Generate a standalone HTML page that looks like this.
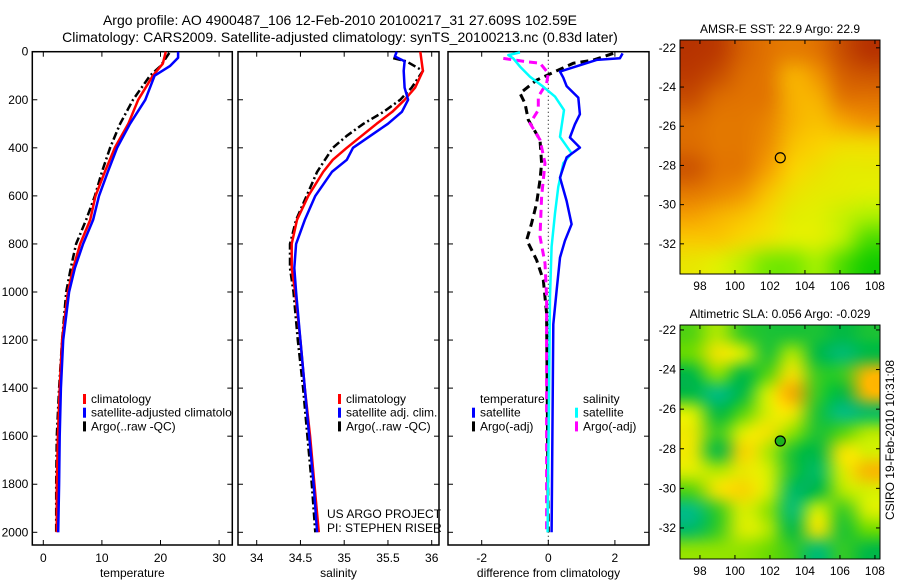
<!DOCTYPE html>
<html><head><meta charset="utf-8">
<style>
body{margin:0;background:#fff;width:900px;height:580px;overflow:hidden;position:relative;font-family:"Liberation Sans",sans-serif}
svg{position:absolute;left:0;top:0}
canvas{position:absolute}
text{font-family:"Liberation Sans",sans-serif;font-size:12px;fill:#000}
</style></head><body>
<canvas id="sst" width="200" height="234" style="left:680px;top:40px"></canvas>
<canvas id="sla" width="200" height="234" style="left:680px;top:325px"></canvas>
<svg id="chart" width="900" height="580"></svg>
<script>
// ---- data ----
const tDepthClim=[0,50,100,200,300,400,500,600,700,800,900,1000,1200,1400,1600,1800,2000];
const tClim=[20.9,20.4,18.7,16.2,14.5,12.2,10.5,8.9,8.0,6.3,5.1,4.2,3.2,2.8,2.5,2.3,2.3];
const tDepthSat=[0,25,60,100,200,300,400,500,600,700,800,900,1000,1200,1400,1600,1800,2000];
const tSat=[23.0,23.0,21.6,19.0,17.4,14.8,12.6,11.0,9.5,8.5,6.8,5.4,4.4,3.4,3.0,2.8,2.7,2.55];
const tDepthArgo=[5,60,100,200,300,400,500,600,700,800,900,1000,1200,1400,1600,1800,2000];
const tArgo=[21.5,20.0,18.2,15.3,13.1,11.4,10.0,8.8,7.3,5.6,4.7,3.9,3.2,2.7,2.3,2.2,2.2];

const sDepthClim=[0,80,150,200,250,300,350,400,450,500,600,700,800,900,1000,1200,1400,1600,1800,2000];
const sClim=[35.87,35.9,35.81,35.69,35.55,35.37,35.2,35.03,34.87,34.76,34.59,34.46,34.4,34.4,34.44,34.5,34.55,34.61,34.66,34.71];
const sDepthSat=[0,20,40,80,150,200,250,300,350,400,450,500,600,700,800,900,1000,1200,1400,1600,1800,2000];
const sSat=[35.6,35.58,35.69,35.68,35.69,35.73,35.66,35.5,35.3,35.1,35.03,34.86,34.67,34.55,34.45,34.43,34.45,34.5,34.55,34.6,34.65,34.69];
const sDepthArgo=[27,40,80,150,200,250,300,350,400,500,600,700,800,900,1000,1200,1400,1600,1800,2000];
const sArgo=[35.56,35.71,35.9,35.77,35.64,35.45,35.22,35.03,34.87,34.69,34.57,34.45,34.38,34.38,34.42,34.47,34.53,34.58,34.63,34.67];

const dTSatDepth=[7,27,34,83,108,143,191,260,302,357,399,440,524,621,718,787,857,995,1134,2000];
const dTSat=[2.23,2.15,1.45,0.35,0.45,0.55,0.9,0.95,0.8,0.65,0.95,0.55,0.35,0.55,0.7,0.5,0.35,0.25,0.15,0.1];
const dTArgoDepth=[7,35,48,83,118,173,215,284,367,464,534,631,714,783,867,950,1089,2000];
const dTArgo=[1.95,1.35,0.75,0.2,-0.35,-0.85,-0.7,-0.6,-0.25,-0.2,-0.25,-0.35,-0.5,-0.65,-0.35,-0.15,-0.05,0.0];
const dSSatDepth=[3,14,28,62,104,146,187,243,354,423,464,562,673,812,1020,2000];
const dSSat=[-0.85,-1.2,-1.05,-0.85,-0.55,-0.15,0.2,0.47,0.35,0.7,0.45,0.3,0.2,0.1,0.05,-0.02];
const dSArgoDepth=[28,42,48,90,132,187,243,298,367,464,603,770,880,1020,2000];
const dSArgo=[-1.35,-0.65,-0.25,0,-0.05,-0.3,-0.3,-0.55,-0.25,-0.1,-0.2,-0.25,-0.1,-0.05,-0.05];

const depthTicks=[0,200,400,600,800,1000,1200,1400,1600,1800,2000];
const tempTicks=[0,10,20,30];
const salTicks=[34,34.5,35,35.5,36];
const diffTicks=[-2,0,2];
const latTicks=[-22,-24,-26,-28,-30,-32];
const lonTicks=[98,100,102,104,106,108];

const sstGrid=[
[.97,.95,.85,.8,.75,.8,.9,.97],
[.95,.9,.82,.78,.55,.65,.85,.88],
[.9,.82,.8,.78,.55,.55,.78,.8],
[.82,.78,.78,.72,.55,.5,.58,.65],
[.82,.78,.78,.68,.5,.45,.4,.4],
[.88,.8,.78,.6,.45,.38,.33,.33],
[.78,.72,.65,.5,.38,.33,.32,.3],
[.6,.55,.5,.42,.32,.3,.25,.2],
[.48,.48,.42,.36,.3,.3,.22,.08],
[.35,.3,.22,.12,.12,.18,.08,.02]];
const slaGrid=[
[.4,.55,.35,.3,.3,.3,.25,.3],
[.45,.72,.6,.3,.55,.25,.1,.25],
[.25,.5,.25,.4,.75,.35,.35,.85],
[.25,.05,.25,.6,.88,.35,.25,.85],
[.6,.25,.4,.62,.72,.3,.05,.15],
[.68,.35,.62,.72,.5,.3,.4,.55],
[.68,.25,.78,.55,.3,.25,.72,.6],
[.62,.55,.68,.6,.3,.15,.62,.85],
[.4,.72,.78,.6,.15,.25,.55,.6],
[.05,.35,.62,.5,.1,.6,.35,.6],
[.15,.35,.62,.55,.25,.72,.3,.45],
[.5,.5,.5,.45,.35,.1,.35,.25]];

// ---- scales ----
const yD=d=>51.7+d*0.2403;
const xT=v=>43.3+v*5.86;
const xS=v=>256.7+(v-34)*87.5;
const xDf=v=>548.3+v*33.3;
const NS='http://www.w3.org/2000/svg';
const svg=document.getElementById('chart');
function el(tag,attrs,parent){const e=document.createElementNS(NS,tag);for(const k in attrs)e.setAttribute(k,attrs[k]);(parent||svg).appendChild(e);return e;}
function txt(x,y,s,anchor,parent,size){const t=el('text',{x:x,y:y,'text-anchor':anchor||'start'},parent);if(size)t.setAttribute('style','font-size:'+size+'px');t.textContent=s;return t;}

let t1=txt(340,25,'Argo profile: AO 4900487_106 12-Feb-2010 20100217_31 27.609S 102.59E','middle',null,14);


let t2=txt(340,42,'Climatology: CARS2009. Satellite-adjusted climatology: synTS_20100213.nc (0.83d later)','middle',null,14);



function panel(name,x0,x1,xs,ticks,fmt,xlabel,showY){
  const g=el('g',{});
  
  
  el('rect',{x:x0,y:51.7,width:x1-x0,height:493.3,fill:'none',stroke:'#000','stroke-width':1.5},g);
  depthTicks.forEach(d=>{const y=yD(d);
    el('line',{x1:x0,x2:x0+5,y1:y,y2:y,stroke:'#000'},g);
    el('line',{x1:x1-5,x2:x1,y1:y,y2:y,stroke:'#000'},g);
    if(showY){const l=txt(x0-4,y+4,String(d),'end',g);}
  });
  ticks.forEach(v=>{const x=xs(v);
    el('line',{x1:x,x2:x,y1:545,y2:540,stroke:'#000'},g);
    el('line',{x1:x,x2:x,y1:51.7,y2:56.7,stroke:'#000'},g);
    const l=txt(x,562,fmt(v),'middle',g);
  });
  const xl=txt((x0+x1)/2,577,xlabel,'middle',g);
  
  
  return g;
}
panel('temperature-panel',32.3,232.3,xT,tempTicks,String,'temperature',true);
panel('salinity-panel',238,439,xS,salTicks,String,'salinity',false);
const p3=panel('difference-panel',448,649,xDf,diffTicks,String,'difference from climatology',false);
el('line',{x1:xDf(0),x2:xDf(0),y1:51.7,y2:545,stroke:'#000','stroke-dasharray':'1,3'},p3);

function series(name,depths,vals,xs,color,dash,w){
  const pts=depths.map((d,i)=>xs(vals[i]).toFixed(1)+','+yD(d).toFixed(1)).join(' ');
  const p=el('polyline',{points:pts,fill:'none',stroke:color,'stroke-width':w||2.5,'stroke-linejoin':'round'});
  if(dash)p.setAttribute('stroke-dasharray',dash);
  
  
}
series('temp-argo-line',tDepthArgo,tArgo,xT,'#000','8,3,2,3');
series('temp-climatology-line',tDepthClim,tClim,xT,'#f00');
series('temp-satellite-line',tDepthSat,tSat,xT,'#00f');
series('sal-argo-line',sDepthArgo,sArgo,xS,'#000','8,3,2,3');
series('sal-climatology-line',sDepthClim,sClim,xS,'#f00');
series('sal-satellite-line',sDepthSat,sSat,xS,'#00f');
series('diff-temp-argo-line',dTArgoDepth,dTArgo,xDf,'#000','8,5',3);
series('diff-sal-argo-line',dSArgoDepth,dSArgo,xDf,'#f0f','8,5',3);
series('diff-sal-satellite-line',dSSatDepth,dSSat,xDf,'#0ff');
series('diff-temp-satellite-line',dTSatDepth,dTSat,xDf,'#00f');

function legend(name,x,y,items){
  const g=el('g',{});
  
  
  items.forEach((it,i)=>{
    if(it[0])el('rect',{x:x,y:y+i*13.7-9,width:3,height:10,fill:it[0]},g);
    txt(x+8,y+i*13.7,it[1],'start',g);
  });
}
legend('temp-legend',83,403,[['#f00','climatology'],['#00f','satellite-adjusted climatolo'],['#000','Argo(..raw -QC)']]);
legend('sal-legend',338,403,[['#f00','climatology'],['#00f','satellite adj. clim.'],['#000','Argo(..raw -QC)']]);
legend('diff-temp-legend',472,403,[[null,'temperature'],['#00f','satellite'],['#000','Argo(-adj)']]);
legend('diff-sal-legend',575,403,[[null,'salinity'],['#0ff','satellite'],['#f0f','Argo(-adj)']]);
const cr=el('g',{});
txt(327,518,'US ARGO PROJECT','start',cr);txt(327,532,'PI: STEPHEN RISER','start',cr);

// ---- maps ----
function lerpColor(stops,v){
  for(let i=1;i<stops.length;i++){if(v<=stops[i][0]){const a=stops[i-1],b=stops[i],f=(v-a[0])/(b[0]-a[0]);
    return [0,1,2].map(k=>Math.round(a[1][k]+(b[1][k]-a[1][k])*f));}}
  return stops[stops.length-1][1];
}
const sstStops=[[0,[0,200,0]],[.15,[150,240,0]],[.3,[225,240,0]],[.45,[250,210,0]],[.6,[245,160,0]],[.8,[225,115,0]],[1,[175,40,0]]];
const slaStops=[[0,[0,190,150]],[.25,[0,185,70]],[.45,[110,220,0]],[.6,[215,240,0]],[.75,[250,225,0]],[.9,[250,160,0]],[1,[245,130,0]]];
function drawMap(id,grid,stops){
  const rows=grid.length,cols=grid[0].length;
  const off=document.createElement('canvas');off.width=cols;off.height=rows;
  const oc=off.getContext('2d');const img=oc.createImageData(cols,rows);
  grid.forEach((r,i)=>r.forEach((v,j)=>{const c=lerpColor(stops,v);const k=(i*cols+j)*4;img.data[k]=c[0];img.data[k+1]=c[1];img.data[k+2]=c[2];img.data[k+3]=255;}));
  oc.putImageData(img,0,0);
  const cv=document.getElementById(id),ctx=cv.getContext('2d');
  ctx.imageSmoothingEnabled=true;ctx.imageSmoothingQuality='high';
  ctx.drawImage(off,0,0,cols,rows,0,0,cv.width,cv.height);
}
drawMap('sst',sstGrid,sstStops);
drawMap('sla',slaGrid,slaStops);

function mapAxes(name,top,lat0,pxLat,title){
  const g=el('g',{});
  
  
  el('rect',{x:680,y:top,width:200,height:234,fill:'none',stroke:'#000'},g);
  const yL=l=>top+(lat0-l)*pxLat;
  const xL=l=>680+(l-96.86)*17.5;
  latTicks.forEach(l=>{const y=yL(l);
    el('line',{x1:680,x2:684,y1:y,y2:y,stroke:'#000'},g);
    el('line',{x1:876,x2:880,y1:y,y2:y,stroke:'#000'},g);
    txt(676,y+4,String(l),'end',g);});
  lonTicks.forEach(l=>{const x=xL(l);
    el('line',{x1:x,x2:x,y1:top,y2:top+4,stroke:'#000'},g);
    el('line',{x1:x,x2:x,y1:top+234,y2:top+230,stroke:'#000'},g);
    txt(x,top+250,String(l),'middle',g);});
  txt(780,top-7,title,'middle',g);
  const c=el('circle',{cx:xL(102.59),cy:yL(-27.609),r:5,fill:name==='sla-map'?'#1db31d':'none',stroke:'#000','stroke-width':1.2},g);
  
  
}
mapAxes('sst-map',40,-21.6,19.6,'AMSR-E SST: 22.9 Argo: 22.9');
mapAxes('sla-map',325,-21.75,19.8,'Altimetric SLA: 0.056 Argo: -0.029');
const st=txt(0,0,'CSIRO 19-Feb-2010 10:31:08','middle');
st.setAttribute('transform','translate(894,440) rotate(-90)');


</script>
</body></html>
